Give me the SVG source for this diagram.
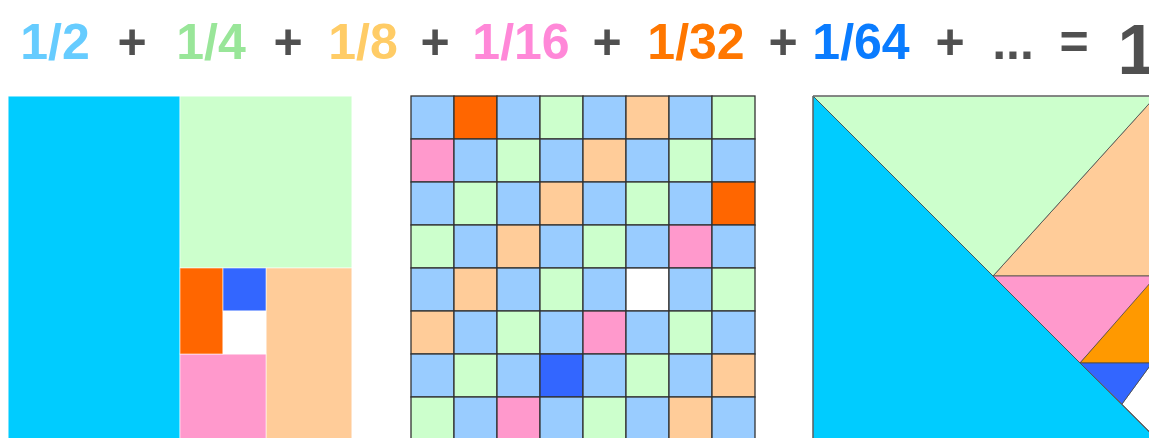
<svg xmlns="http://www.w3.org/2000/svg" width="1149" height="438" viewBox="0 0 1149 438">
<style>
  text { font-family: "Liberation Sans", Arial, sans-serif; font-weight: bold; text-anchor: middle; }
  .t { font-size: 50px; }
  .op { font-size: 50px; fill: #505050; }
  .cy { fill: #00ccff; } .gr { fill: #ccffcc; } .pe { fill: #ffcc99; }
  .pk { fill: #ff99cc; } .or { fill: #ff6600; } .bl { fill: #3366ff; }
  .lb { fill: #99ccff; } .wh { fill: #ffffff; } .or2 { fill: #ff9900; }
  .p1 rect { stroke: #ffffff; stroke-width: 0.8; stroke-opacity: 0.7; }
  .grid rect { stroke: #333333; stroke-width: 1.3; }
  .p3 polygon { stroke: #4a4a4a; stroke-width: 1; stroke-opacity: 0.8; }
</style>
<rect width="1149" height="438" fill="#ffffff"/>
<g id="title">
  <text class="t" x="55" y="59" fill="#66ccff">1/2</text>
  <text class="op" x="132" y="59">+</text>
  <text class="t" x="211" y="59" fill="#99e699">1/4</text>
  <text class="op" x="288" y="59">+</text>
  <text class="t" x="363" y="59" fill="#ffcc66">1/8</text>
  <text class="op" x="435" y="59">+</text>
  <text class="t" x="521" y="59" fill="#ff88d8">1/16</text>
  <text class="op" x="607" y="59">+</text>
  <text class="t" x="696" y="59" fill="#ff7700">1/32</text>
  <text class="op" x="783" y="59">+</text>
  <text class="t" x="861" y="59" fill="#0a7cff">1/64</text>
  <text class="op" x="950" y="59">+</text>
  <text class="op" x="1013" y="59">...</text>
  <text class="op" x="1074" y="59">=</text>
  <text x="1137" y="74" font-size="70" fill="#505050">1</text>
</g>
<g id="panel-rectangles" class="p1">
  <rect class="cy" x="8" y="96" width="172" height="344"/>
  <rect class="gr" x="180" y="96" width="172" height="172"/>
  <rect class="pe" x="266" y="268" width="86" height="172"/>
  <rect class="pk" x="180" y="354" width="86" height="86"/>
  <rect class="or" x="180" y="268" width="43" height="86"/>
  <rect class="bl" x="223" y="268" width="43" height="43"/>
  <rect class="wh" x="223" y="311" width="43" height="43"/>
  <rect x="8" y="96" width="344" height="344" fill="none" stroke="#666666" stroke-width="1.2" stroke-opacity="1"/>
</g>
<g id="panel-grid" class="grid">
  <rect class="lb" x="411" y="96" width="43" height="43"/><rect class="or" x="454" y="96" width="43" height="43"/><rect class="lb" x="497" y="96" width="43" height="43"/><rect class="gr" x="540" y="96" width="43" height="43"/><rect class="lb" x="583" y="96" width="43" height="43"/><rect class="pe" x="626" y="96" width="43" height="43"/><rect class="lb" x="669" y="96" width="43" height="43"/><rect class="gr" x="712" y="96" width="43" height="43"/>
  <rect class="pk" x="411" y="139" width="43" height="43"/><rect class="lb" x="454" y="139" width="43" height="43"/><rect class="gr" x="497" y="139" width="43" height="43"/><rect class="lb" x="540" y="139" width="43" height="43"/><rect class="pe" x="583" y="139" width="43" height="43"/><rect class="lb" x="626" y="139" width="43" height="43"/><rect class="gr" x="669" y="139" width="43" height="43"/><rect class="lb" x="712" y="139" width="43" height="43"/>
  <rect class="lb" x="411" y="182" width="43" height="43"/><rect class="gr" x="454" y="182" width="43" height="43"/><rect class="lb" x="497" y="182" width="43" height="43"/><rect class="pe" x="540" y="182" width="43" height="43"/><rect class="lb" x="583" y="182" width="43" height="43"/><rect class="gr" x="626" y="182" width="43" height="43"/><rect class="lb" x="669" y="182" width="43" height="43"/><rect class="or" x="712" y="182" width="43" height="43"/>
  <rect class="gr" x="411" y="225" width="43" height="43"/><rect class="lb" x="454" y="225" width="43" height="43"/><rect class="pe" x="497" y="225" width="43" height="43"/><rect class="lb" x="540" y="225" width="43" height="43"/><rect class="gr" x="583" y="225" width="43" height="43"/><rect class="lb" x="626" y="225" width="43" height="43"/><rect class="pk" x="669" y="225" width="43" height="43"/><rect class="lb" x="712" y="225" width="43" height="43"/>
  <rect class="lb" x="411" y="268" width="43" height="43"/><rect class="pe" x="454" y="268" width="43" height="43"/><rect class="lb" x="497" y="268" width="43" height="43"/><rect class="gr" x="540" y="268" width="43" height="43"/><rect class="lb" x="583" y="268" width="43" height="43"/><rect class="wh" x="626" y="268" width="43" height="43"/><rect class="lb" x="669" y="268" width="43" height="43"/><rect class="gr" x="712" y="268" width="43" height="43"/>
  <rect class="pe" x="411" y="311" width="43" height="43"/><rect class="lb" x="454" y="311" width="43" height="43"/><rect class="gr" x="497" y="311" width="43" height="43"/><rect class="lb" x="540" y="311" width="43" height="43"/><rect class="pk" x="583" y="311" width="43" height="43"/><rect class="lb" x="626" y="311" width="43" height="43"/><rect class="gr" x="669" y="311" width="43" height="43"/><rect class="lb" x="712" y="311" width="43" height="43"/>
  <rect class="lb" x="411" y="354" width="43" height="43"/><rect class="gr" x="454" y="354" width="43" height="43"/><rect class="lb" x="497" y="354" width="43" height="43"/><rect class="bl" x="540" y="354" width="43" height="43"/><rect class="lb" x="583" y="354" width="43" height="43"/><rect class="gr" x="626" y="354" width="43" height="43"/><rect class="lb" x="669" y="354" width="43" height="43"/><rect class="pe" x="712" y="354" width="43" height="43"/>
  <rect class="gr" x="411" y="397" width="43" height="43"/><rect class="lb" x="454" y="397" width="43" height="43"/><rect class="pk" x="497" y="397" width="43" height="43"/><rect class="lb" x="540" y="397" width="43" height="43"/><rect class="gr" x="583" y="397" width="43" height="43"/><rect class="lb" x="626" y="397" width="43" height="43"/><rect class="pe" x="669" y="397" width="43" height="43"/><rect class="lb" x="712" y="397" width="43" height="43"/>
</g>
<g id="panel-triangles" class="p3">
  <polygon class="wh" points="1122,404 1152,363 1170,363 1170,460 1178,460"/>
  <polygon class="pe" points="1156,96 1170,96 1170,276 993,276"/>
  <polygon class="pk" points="993,276 1158,276 1080,363"/>
  <polygon class="or2" points="1080,363 1158,274 1170,274 1170,363"/>
  <polygon class="bl" points="1080,363 1152,363 1122,404"/>
  <polygon class="gr" points="813,96 1156,96 993,276"/>
  <polygon class="cy" points="813,96 1177,460 813,460"/>
  <line x1="813" y1="96" x2="1160" y2="96" stroke="#777777" stroke-width="1.5"/>
  <line x1="813" y1="96" x2="813" y2="440" stroke="#666666" stroke-width="1.2"/>
</g>
</svg>
